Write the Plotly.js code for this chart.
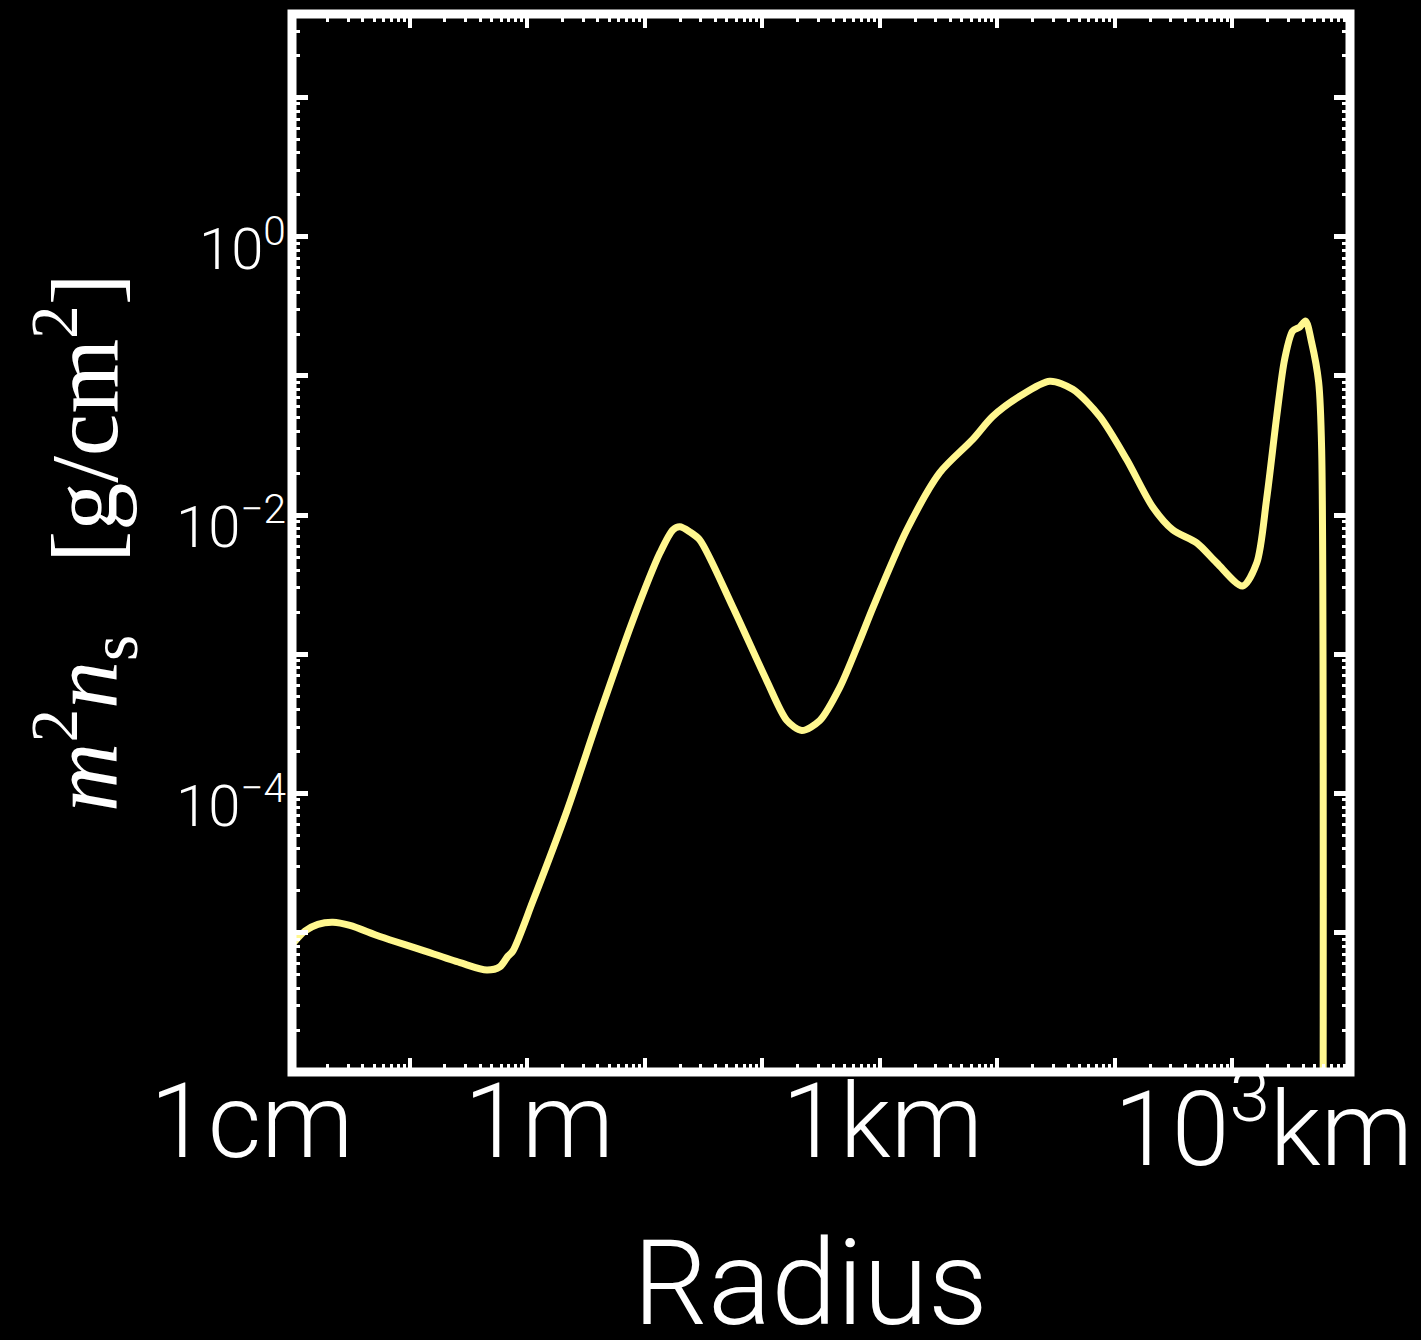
<!DOCTYPE html>
<html>
<head>
<meta charset="utf-8">
<script src="https://cdn.plot.ly/plotly-3.0.1.min.js"></script>
<style>
  html, body { margin: 0; padding: 0; background: #000; }
  #chart { width: 1421px; height: 1340px; }
</style>
</head>
<body>
<div id="chart"></div>
<script>
// Planetesimal size distribution: m^2 n_s against radius (radius in metres)
const radiusM = [
  1.02e-2, 1.29e-2, 1.66e-2, 2.23e-2, 3.11e-2, 5.60e-2, 0.122, 0.269, 0.455, 0.587,
  0.687, 0.757, 1.12, 2.18, 4.16, 7.94, 13.5, 17.4, 19.9, 24.2,
  29.4, 56.2, 109, 162, 217, 309, 457, 676, 871, 1700,
  3240, 6180, 9140, 1.55e4, 2.79e4, 4.38e4, 7.43e4, 1.26e5, 2.09e5, 3.10e5,
  4.97e5, 7.35e5, 1.22e6, 1.61e6, 1.95e6, 2.38e6, 2.78e6, 3.25e6, 3.72e6, 4.19e6,
  4.71e6, 5.41e6, 5.74e6, 5.85e6
];
const m2ns = [
  8.4e-6, 1.03e-5, 1.15e-5, 1.19e-5, 1.13e-5, 9.4e-6, 7.6e-6, 6.1e-6, 5.4e-6, 5.7e-6,
  6.8e-6, 7.4e-6, 1.69e-5, 7.5e-5, 3.76e-4, 1.76e-3, 5.36e-3, 7.85e-3, 8.24e-3, 7.59e-3,
  6.65e-3, 2.19e-3, 6.50e-4, 3.35e-4, 2.84e-4, 3.35e-4, 5.79e-4, 1.26e-3, 2.15e-3, 7.85e-3,
  2.02e-2, 3.50e-2, 5.12e-2, 7.14e-2, 9.16e-2, 8.02e-2, 5.12e-2, 2.51e-2, 1.15e-2, 7.85e-3,
  6.32e-3, 4.54e-3, 3.10e-3, 4.54e-3, 1.29e-2, 5.12e-2, 0.132, 0.210, 0.224, 0.248,
  0.175, 9.02e-2, 2.96e-2, 1e-9
];

// Axis labels
const xTickVals = [0.01, 1, 1e3, 1e6];
const xTickText = ['1cm', '1m', '1km', '10<sup>3</sup>km'];
const xTickShift = [-40, 12, 3, 31];
const yTickVals = [1e-4, 1e-2, 1];
const yTickText = ['10<sup>\u22124</sup>', '10<sup>\u22122</sup>', '10<sup>0</sup>'];
const xTitle = 'Radius';
const yTitle = '<i>m</i><sup>2</sup><i>n</i><sub>s</sub>   [g/cm<sup>2</sup>]';

const white = '#ffffff';
const sansFont = 'Roboto, "Liberation Sans", sans-serif';

const trace = {
  type: 'scatter',
  mode: 'lines',
  x: radiusM,
  y: m2ns,
  line: { color: '#fff78f', width: 7, shape: 'spline', smoothing: 0.8 },
  hoverinfo: 'skip'
};

const annotations = [];
xTickVals.forEach((v, i) => {
  annotations.push({
    xref: 'x', yref: 'paper',
    x: Math.log10(v), y: -0.047,
    xshift: xTickShift[i],
    xanchor: 'center', yanchor: 'middle',
    text: xTickText[i], showarrow: false,
    font: { family: sansFont, size: 104, color: white, weight: 300 }
  });
});
yTickVals.forEach((v, i) => {
  annotations.push({
    xref: 'paper', yref: 'y',
    x: 0, y: Math.log10(v),
    xshift: -4, yshift: -8,
    xanchor: 'right', yanchor: 'middle',
    text: yTickText[i], showarrow: false,
    font: { family: sansFont, size: 58, color: white, weight: 300 }
  });
});
annotations.push({
  xref: 'paper', yref: 'paper',
  x: 0.5, y: -0.2, xshift: -11,
  xanchor: 'center', yanchor: 'middle',
  text: xTitle, showarrow: false,
  font: { family: sansFont, size: 118, color: white, weight: 300 }
});
annotations.push({
  xref: 'paper', yref: 'paper',
  x: -0.1957, y: 0.501,
  xanchor: 'center', yanchor: 'middle',
  textangle: -90,
  text: yTitle, showarrow: false,
  font: { family: '"Liberation Serif", "DejaVu Serif", serif', size: 96, color: white }
});

const layout = {
  width: 1421,
  height: 1340,
  margin: { l: 292, r: 71, t: 14, b: 268, pad: 0 },
  paper_bgcolor: '#000000',
  plot_bgcolor: '#000000',
  showlegend: false,
  xaxis: {
    type: 'log',
    range: [-2, 7],
    showgrid: false, zeroline: false, showline: false,
    showticklabels: false,
    ticks: 'inside', ticklen: 14, tickwidth: 4, tickcolor: white,
    tick0: 0, dtick: 1,
    mirror: 'ticks',
    minor: { ticks: 'inside', ticklen: 8, tickwidth: 3, tickcolor: white, dtick: 'D1', showgrid: false }
  },
  yaxis: {
    type: 'log',
    range: [-6, 1.6],
    showgrid: false, zeroline: false, showline: false,
    showticklabels: false,
    ticks: 'inside', ticklen: 16, tickwidth: 5, tickcolor: white,
    tick0: 0, dtick: 1,
    mirror: 'ticks',
    minor: { ticks: 'inside', ticklen: 8, tickwidth: 3, tickcolor: white, dtick: 'D1', showgrid: false }
  },
  shapes: [
    {
      type: 'rect', xref: 'paper', yref: 'paper',
      x0: 0, x1: 1, y0: 0, y1: 1,
      line: { color: white, width: 9 }, fillcolor: 'rgba(0,0,0,0)', layer: 'above'
    },
    {
      type: 'line', xref: 'paper', yref: 'y', xsizemode: 'pixel', xanchor: 0,
      x0: 0, x1: 24, y0: 0, y1: 0,
      line: { color: white, width: 6 }, layer: 'above'
    },
    {
      type: 'line', xref: 'paper', yref: 'y', xsizemode: 'pixel', xanchor: 1,
      x0: -24, x1: 0, y0: 0, y1: 0,
      line: { color: white, width: 6 }, layer: 'above'
    }
  ],
  annotations: annotations
};

Plotly.newPlot('chart', [trace], layout, { displayModeBar: false, staticPlot: true });
</script>
</body>
</html>
